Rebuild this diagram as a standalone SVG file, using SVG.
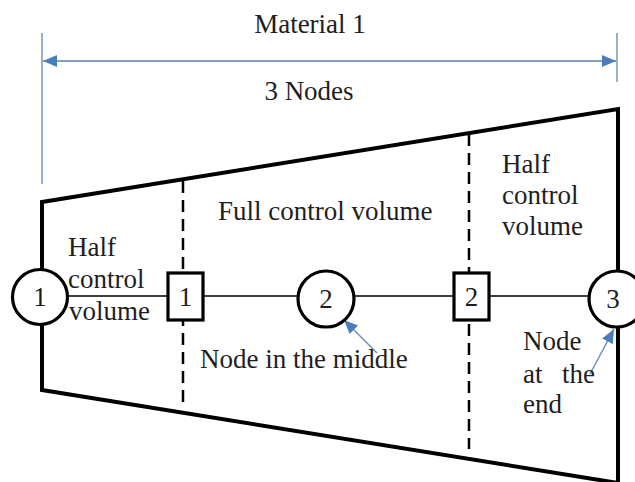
<svg xmlns="http://www.w3.org/2000/svg" width="635" height="482" viewBox="0 0 635 482" font-family="'Liberation Serif', 'Times New Roman', serif">
<style>
text{font-family:'Liberation Serif','Times New Roman',serif;font-size:27px;fill:#1e1e1e}
.mid{text-anchor:middle}
.edge{fill:none;stroke:#000;stroke-width:4;stroke-linejoin:miter}
.dash{stroke:#000;stroke-width:2.5;stroke-dasharray:12 7}
.link{stroke:#000;stroke-width:1.6}
.node{fill:#fff;stroke:#000;stroke-width:3.2}
.dim{stroke:#5a80aa;stroke-width:1.6;fill:none}
.ext{stroke:#6f8fb3;stroke-width:1.4}
.ptr{stroke:#6a90bf;stroke-width:1.5;fill:none}
</style>
<defs>
<marker id="ah" viewBox="0 0 14 12" refX="14" refY="6" markerWidth="14" markerHeight="12" markerUnits="userSpaceOnUse" orient="auto-start-reverse">
<path d="M0,0 L14,6 L0,12 Z" fill="#4a7ebb"/>
</marker>
<marker id="ph" viewBox="0 0 14 12" refX="14" refY="6" markerWidth="14" markerHeight="12" markerUnits="userSpaceOnUse" orient="auto">
<path d="M0,0 L14,6 L0,12 Z" fill="#4a7ebb"/>
</marker>
</defs>
<g id="dimension">
<line class="ext" x1="42" y1="33" x2="42" y2="184"/>
<line class="ext" x1="617" y1="33" x2="617" y2="82"/>
<line class="dim" x1="43" y1="61" x2="616" y2="61" marker-start="url(#ah)" marker-end="url(#ah)"/>
<text class="mid" x="310" y="33">Material 1</text>
<text class="mid" x="309" y="100">3 Nodes</text>
</g>
<g id="body">
<polyline class="edge" points="42,270 42,202 618,109 618,272"/>
<polyline class="edge" points="42,325 42,390 618,483 618,326"/>
<line class="dash" x1="183" y1="181" x2="183" y2="404"/>
<line class="dash" x1="469" y1="134" x2="469" y2="449"/>
</g>
<g id="connectors">
<line class="link" x1="66" y1="296" x2="592" y2="296"/>
<line class="ptr" x1="377" y1="353" x2="344" y2="320" marker-end="url(#ph)"/>
<line class="ptr" x1="590" y1="374" x2="614" y2="329" marker-end="url(#ph)"/>
</g>
<g id="node1">
<circle class="node" cx="40" cy="297" r="27.5"/>
<text class="mid" x="40" y="306">1</text>
</g>
<g id="cv1">
<rect class="node" x="168" y="273" width="35" height="47"/>
<text class="mid" x="185.5" y="306">1</text>
</g>
<g id="node2">
<circle class="node" cx="326" cy="299" r="28"/>
<text class="mid" x="326" y="308">2</text>
</g>
<g id="cv2">
<rect class="node" x="454" y="273" width="35" height="47"/>
<text class="mid" x="471.5" y="306">2</text>
</g>
<g id="node3">
<circle class="node" cx="617" cy="299" r="28"/>
<text class="mid" x="613" y="308">3</text>
</g>
<g id="labels">
<text x="68" y="256">Half</text>
<text x="68" y="288">control</text>
<text x="69" y="320">volume</text>
<text x="218" y="220">Full control volume</text>
<text x="502" y="173">Half</text>
<text x="502" y="204">control</text>
<text x="502" y="235">volume</text>
<text x="200" y="368">Node in the middle</text>
<text x="523" y="350">Node</text>
<text x="523" y="383">at</text>
<text x="562" y="383">the</text>
<text x="523" y="413">end</text>
</g>
</svg>
